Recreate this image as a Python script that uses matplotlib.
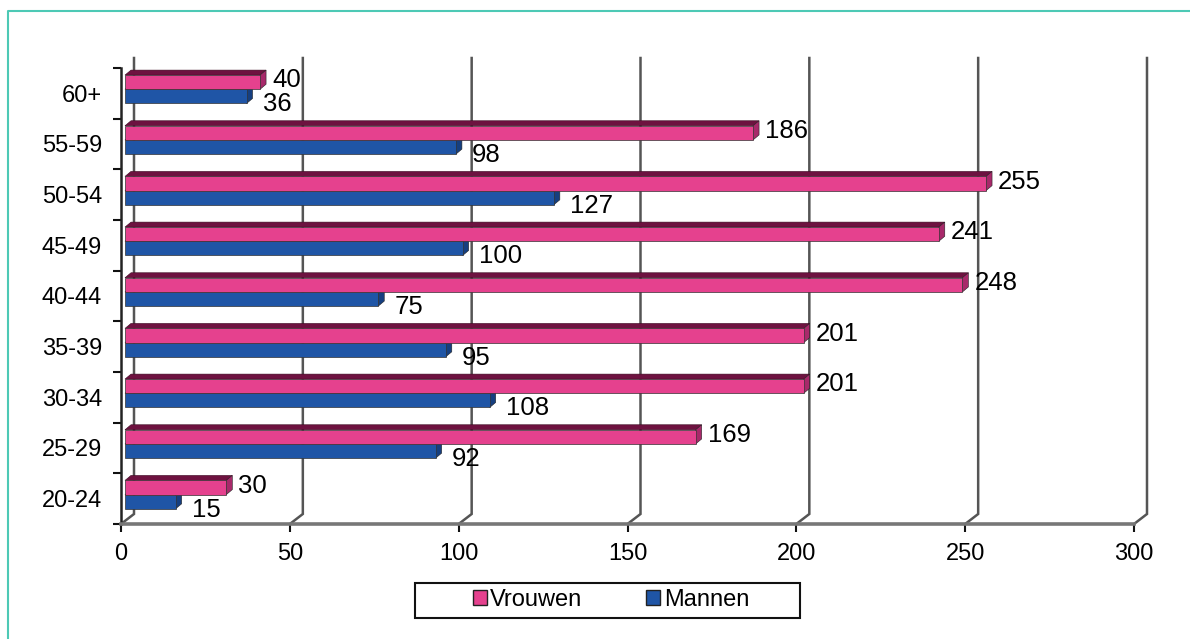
import numpy as np
import matplotlib.pyplot as plt
from matplotlib.patches import Rectangle, Polygon
from matplotlib.lines import Line2D

plt.rcParams['font.family'] = ['Liberation Sans', 'DejaVu Sans']

# data (bottom to top)
categories = ["20-24", "25-29", "30-34", "35-39", "40-44", "45-49", "50-54", "55-59", "60+"]
vrouwen = [30, 169, 201, 201, 248, 241, 255, 186, 40]
mannen = [15, 92, 108, 95, 75, 100, 127, 98, 36]
xticks = [0, 50, 100, 150, 200, 250, 300]

pink, pink_top, pink_side = "#E5418E", "#6E1240", "#A8296A"
blue, blue_top, blue_side = "#1F55A6", "#0E2F66", "#163F80"
grid_col = "#555555"

W, H = 1190, 639
fig = plt.figure(figsize=(W / 100, H / 100), dpi=100)
ax = fig.add_axes([121 / W, 1 - 524 / H, 1013 / W, 456 / H])
ax.set_xlim(0, 300)
ax.set_ylim(-0.5, len(categories) - 0.5)

# pixel -> data units
px_x = 300 / 1013
px_y = len(categories) / 456
wall_dx, wall_dy = 13 * px_x, 10 * px_y
bar_dx, bar_dy = 6 * px_x, 5 * px_y
bar_x0 = 4 * px_x
bar_h = 0.28
ytop = len(categories) - 0.5

# back wall gridlines with the little floor diagonal
for xt in xticks:
    ax.plot([xt, xt + wall_dx, xt + wall_dx], [-0.5, -0.5 + wall_dy, ytop + wall_dy],
            color=grid_col, lw=1.8, clip_on=False, zorder=1, solid_joinstyle='miter')


def draw_bar(val, ybot, front, top, side):
    x0 = bar_x0
    x1 = bar_x0 + val
    ax.add_patch(Polygon([(x0, ybot + bar_h), (x1, ybot + bar_h), (x1 + bar_dx, ybot + bar_h + bar_dy),
                          (x0 + bar_dx, ybot + bar_h + bar_dy)], closed=True,
                         facecolor=top, edgecolor="#3a0820", lw=0.4, zorder=3))
    ax.add_patch(Polygon([(x1, ybot), (x1, ybot + bar_h), (x1 + bar_dx, ybot + bar_h + bar_dy),
                          (x1 + bar_dx, ybot + bar_dy)], closed=True,
                         facecolor=side, edgecolor="#222222", lw=0.4, zorder=3))
    ax.add_patch(Rectangle((x0, ybot), val, bar_h, facecolor=front,
                           edgecolor="#333333", lw=0.5, zorder=4))


for i, (v, m) in enumerate(zip(vrouwen, mannen)):
    yb_blue = i - 0.2
    yb_pink = yb_blue + bar_h
    draw_bar(m, yb_blue, blue, blue_top, blue_side)
    draw_bar(v, yb_pink, pink, pink_top, pink_side)
    ax.text(bar_x0 + v + 12 * px_x, yb_pink + bar_h / 2 + 2 * px_y, str(v),
            fontsize=18.5, ha='left', va='center', zorder=5)
    ax.text(bar_x0 + m + 16 * px_x, yb_blue - 1 * px_y, str(m),
            fontsize=18.5, ha='left', va='center', zorder=5)

# axes styling
for s in ["top", "right"]:
    ax.spines[s].set_visible(False)
ax.spines["left"].set_color("#222222")
ax.spines["left"].set_linewidth(1.8)
ax.spines["bottom"].set_color("#777777")
ax.spines["bottom"].set_linewidth(2.6)

ax.set_yticks(np.arange(-0.5, len(categories), 1.0))
ax.set_yticklabels([])
ax.set_yticks(np.arange(len(categories)), minor=True)
ax.set_yticklabels(categories, minor=True, fontsize=17)
ax.tick_params(axis='y', which='major', direction='out', length=6, width=1.5, color="#111111")
ax.tick_params(axis='y', which='minor', length=0, pad=13.5)

ax.set_xticks(xticks)
ax.set_xticklabels([str(x) for x in xticks], fontsize=17)
ax.tick_params(axis='x', direction='out', length=6, width=1.5, color="#111111", pad=8)

# legend (frame drawn separately so it can be wider than its content)
handles = [Rectangle((0, 0), 1, 1, facecolor=pink, edgecolor="#222222", lw=1),
           Rectangle((0, 0), 1, 1, facecolor=blue, edgecolor="#222222", lw=1)]
fig.legend(handles, ["Vrouwen", "Mannen"], loc='center', bbox_to_anchor=(611 / W, 1 - 600 / H),
           ncol=2, fontsize=17, frameon=False, handlelength=0.6,
           handleheight=0.6, handletextpad=0.15, columnspacing=2.7, borderpad=0,
           borderaxespad=0)
fig.add_artist(Rectangle((415 / W, 1 - 618 / H), 385 / W, 35 / H, transform=fig.transFigure,
                         facecolor="none", edgecolor="#111111", lw=1.5))

# teal frame at left and top
fig.add_artist(Line2D([8 / W, 8 / W, 1], [0, 1 - 11 / H, 1 - 11 / H], color="#4DC9B5", lw=1.5,
                      transform=fig.transFigure))

fig.savefig("out.png", dpi=100, facecolor="white")
